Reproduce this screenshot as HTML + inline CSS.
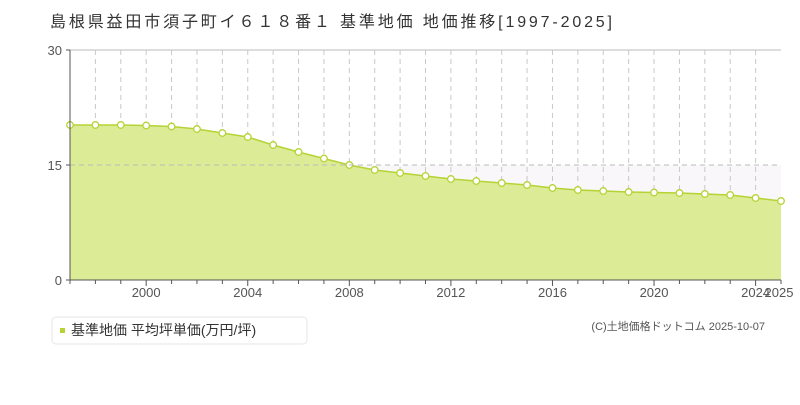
<!DOCTYPE html>
<html><head><meta charset="utf-8"><style>
body{margin:0;background:#fff;width:800px;height:400px;overflow:hidden;font-family:"Liberation Sans","Noto Sans CJK JP",sans-serif}
</style></head><body>
<svg id="s" width="800" height="400" xmlns="http://www.w3.org/2000/svg" font-family="Liberation Sans, Noto Sans CJK JP, sans-serif">
<text x="50" y="27" font-size="16" fill="#333" textLength="562" lengthAdjust="spacing">島根県益田市須子町イ６１８番１ 基準地価 地価推移[1997-2025]</text>
<rect x="70" y="165" width="711" height="115" fill="#f9f7fa"/>
<line x1="70" y1="50" x2="781" y2="50" stroke="#ddd" stroke-width="2"/>
<g id="g"></g>
<line x1="70" y1="165" x2="781" y2="165" stroke="#bbb" stroke-dasharray="5,4"/>
<line x1="70" y1="50" x2="70" y2="280" stroke="#555"/>
<line x1="70" y1="280" x2="781" y2="280" stroke="#555"/>
<g font-size="13" fill="#555" text-anchor="end">
<text x="62" y="55">30</text><text x="62" y="170">15</text><text x="62" y="285">0</text></g>
<line x1="66" y1="50" x2="70" y2="50" stroke="#555"/><line x1="66" y1="165" x2="70" y2="165" stroke="#555"/><line x1="66" y1="280" x2="70" y2="280" stroke="#555"/>
<rect x="52" y="317" width="255" height="27" rx="4" fill="#fff" stroke="#e6e6e6"/>
<rect x="60" y="328" width="5" height="5" fill="#b5d334"/>
<text x="71" y="335" font-size="14" fill="#333">基準地価 平均坪単価(万円/坪)</text>
<text x="765" y="330" font-size="11" fill="#555" text-anchor="end">(C)土地価格ドットコム 2025-10-07</text>
</svg>
<script>
var ys=[125,125,125,125.5,126.5,129,133,137,145,152,158.5,165,170,173,176,179,181,183,185,188,190,191,192,192.5,193,194,195,198,201];
var g=document.getElementById('g'),h='';
function X(i){return 70+i*711/28;}
for(var i=1;i<28;i++){h+='<line x1="'+X(i)+'" y1="50" x2="'+X(i)+'" y2="280" stroke="#c8c8c8" stroke-dasharray="5,4"/>';}
var p='M70,280';for(var i=0;i<29;i++)p+=' L'+X(i)+','+ys[i];p+=' L781,280 Z';
h+='<path d="'+p+'" fill="#dbeb96"/>';
var l='M'+X(0)+','+ys[0];for(var i=1;i<29;i++)l+=' L'+X(i)+','+ys[i];
h+='<path d="'+l+'" fill="none" stroke="#b5d334" stroke-width="1.5"/>';
for(var i=0;i<29;i++){h+='<line x1="'+X(i)+'" y1="280" x2="'+X(i)+'" y2="'+(i%4==3?286:284)+'" stroke="#555"/>';
h+='<circle cx="'+X(i)+'" cy="'+ys[i]+'" r="3.3" fill="#fff" stroke="#b5d334" stroke-width="1.3"/>';}
var yrs=[2000,2004,2008,2012,2016,2020,2024];
yrs.forEach(function(y){h+='<text x="'+X(y-1997)+'" y="297" font-size="13" fill="#555" text-anchor="middle">'+y+'</text>';});
h+='<text x="'+(X(28)-2)+'" y="297" font-size="13" fill="#555" text-anchor="middle">2025</text>';
g.innerHTML=h;
</script>
</body></html>
